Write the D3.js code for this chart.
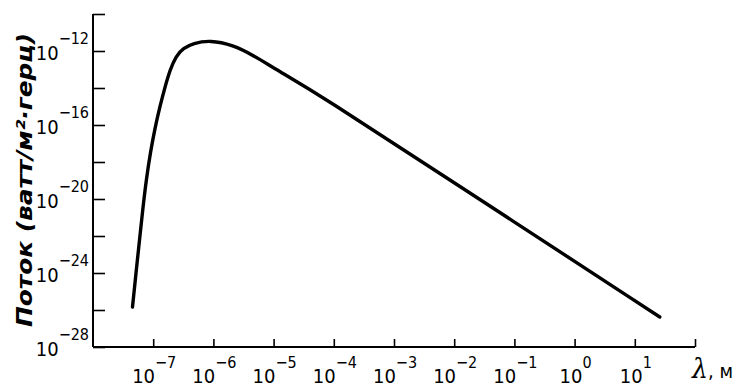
<!DOCTYPE html>
<meta charset="utf-8">
<head>
  <title>Поток</title>
</head>

<style>
  body {
    margin: 0;
    background: #fff;
  }
  text {
    font-family: "DejaVu Sans Condensed", "Liberation Sans", sans-serif;
    font-stretch: condensed;
    fill: #000;
  }
</style>

<body>
<svg width="753" height="391">
  <g id="wrapper"></g>
</svg>

<script src="https://cdnjs.cloudflare.com/ajax/libs/d3/7.8.5/d3.min.js"></script>
<script>
  // wavelength, m
  var lambda = [4.53e-8, 5.18e-8, 5.92e-8, 6.77e-8, 7.74e-8, 9.02e-8, 1.07e-7, 1.30e-7, 1.57e-7,
                1.90e-7, 2.39e-7, 3.16e-7, 4.6e-7, 8.8e-7, 2.12e-6, 4.55e-6, 1.14e-5, 5.9e-5, 1e-2, 26];
  // flux, W / (m^2 Hz)
  var flux = [1.45e-26, 1.0e-24, 6.0e-23, 3.7e-21, 1.38e-19, 3.5e-18, 6.9e-17, 1.07e-15, 1.13e-14,
              9.3e-14, 5.4e-13, 1.41e-12, 2.6e-12, 3.9e-12, 2.1e-12, 6.0e-13, 9.3e-14, 4.2e-15, 7.6e-20, 4.2e-27];

  var xTickExp = [-7, -6, -5, -4, -3, -2, -1, 0, 1, 2];
  var xLabelExp = [-7, -6, -5, -4, -3, -2, -1, 0, 1];
  var yTickExp = [-10, -12, -14, -16, -18, -20, -22, -24, -26, -28];
  var yLabelExp = [-12, -16, -20, -24, -28];

  var x = d3.scaleLog()
    .domain([1e-8, 1e2])
    .range([93, 695]);

  var y = d3.scaleLog()
    .domain([1e-28, 1e-10])
    .range([347, 14]);

  var g = d3.select('#wrapper');

  function expText(e) {
    return e < 0 ? '\u2212' + (-e) : String(e);
  }

  // x axis
  var xAxis = g.append('g')
    .attr('transform', 'translate(0,' + y(1e-28) + ')')
    .call(d3.axisBottom(x)
      .tickValues(xTickExp.map(function(e) { return Math.pow(10, e); }))
      .tickSize(-8)
      .tickSizeOuter(0)
      .tickFormat(''));
  xAxis.select('.domain').attr('stroke-width', 2).attr('d', 'M' + x(1e-8) + ',0H' + x(1e2));
  xAxis.selectAll('.tick line').attr('stroke-width', 1.6);

  xLabelExp.forEach(function(e) {
    var t = g.append('text')
      .attr('x', x(Math.pow(10, e)) + 1)
      .attr('y', 383)
      .attr('text-anchor', 'middle')
      .style('font-size', '20px');
    t.append('tspan').text('10');
    t.append('tspan')
      .attr('dy', -15)
      .style('font-size', '16px')
      .text(expText(e));
  });

  // y axis
  var yAxis = g.append('g')
    .attr('transform', 'translate(' + x(1e-8) + ',0)')
    .call(d3.axisLeft(y)
      .tickValues(yTickExp.map(function(e) { return Math.pow(10, e); }))
      .tickSize(-12)
      .tickSizeOuter(0)
      .tickFormat(''));
  yAxis.select('.domain').attr('stroke-width', 2).attr('d', 'M0,' + y(1e-10) + 'V' + y(1e-28));
  yAxis.selectAll('.tick line').attr('stroke-width', 1.6);

  yLabelExp.forEach(function(e) {
    var t = g.append('text')
      .attr('x', 89)
      .attr('y', y(Math.pow(10, e)) + 9)
      .attr('text-anchor', 'end')
      .style('font-size', '20px');
    t.append('tspan').text('10');
    t.append('tspan')
      .attr('dy', -16)
      .style('font-size', '16px')
      .text(expText(e));
  });

  // curve
  var pts = lambda.map(function(d, i) { return [d, flux[i]]; });
  var line = d3.line()
    .x(function(d) { return x(d[0]); })
    .y(function(d) { return y(d[1]); })
    .curve(d3.curveBasis);

  g.append('path')
    .datum(pts)
    .attr('d', line)
    .attr('fill', 'none')
    .attr('stroke', '#000')
    .attr('stroke-width', 3.4)
    .attr('stroke-linecap', 'round');

  // axis titles
  g.append('text')
    .attr('transform', 'translate(32,180) rotate(-90)')
    .attr('text-anchor', 'middle')
    .attr('textLength', 294)
    .attr('lengthAdjust', 'spacingAndGlyphs')
    .style('font-size', '22px')
    .style('font-style', 'italic')
    .style('font-weight', 'bold')
    .text('Поток (ватт/м\u00b2\u00b7герц)');

  var lt = g.append('text')
    .attr('x', 692)
    .attr('y', 378)
    .style('font-size', '28px');
  lt.append('tspan')
    .style('font-style', 'italic')
    .style('font-family', 'DejaVu Serif, serif')
    .text('\u03bb');
  lt.append('tspan')
    .style('font-size', '20px')
    .text(', м');
</script>
</body>
</html>
